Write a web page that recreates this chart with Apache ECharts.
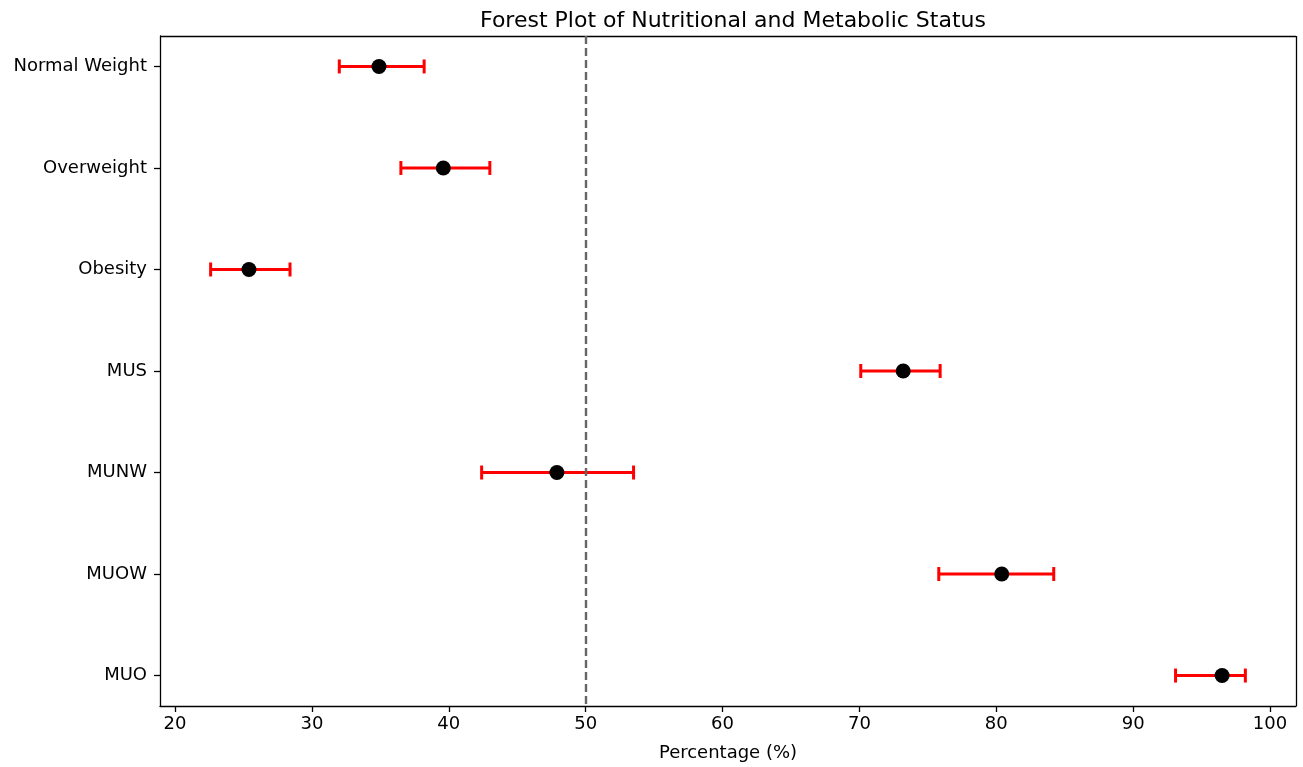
<!DOCTYPE html>
<html>
<head>
<meta charset="utf-8">
<script src="https://cdn.jsdelivr.net/npm/echarts@6/dist/echarts.min.js"></script>
<style>
  html, body { margin: 0; padding: 0; background: #fff; }
  #main { width: 1303px; height: 767px; }
</style>
</head>
<body>
<div id="main"></div>
<script>
// data
var groups = ['Normal Weight', 'Overweight', 'Obesity', 'MUS', 'MUNW', 'MUOW', 'MUO'];
var estimate = [34.9, 39.6, 25.4, 73.2, 47.9, 80.4, 96.5];
var lower = [32.0, 36.5, 22.6, 70.1, 42.4, 75.8, 93.1];
var upper = [38.2, 43.0, 28.4, 75.9, 53.5, 84.2, 98.2];
var xTicks = [20, 30, 40, 50, 60, 70, 80, 90, 100];
var refLine = 50;

var font = 'DejaVu Sans';
var yIdx = groups.map(function (g, i) { return i; });

var errData = groups.map(function (g, i) { return [lower[i], upper[i], i]; });
var pointData = groups.map(function (g, i) { return [estimate[i], i]; });

var chartDom = document.getElementById('main');
var myChart = echarts.init(chartDom);
var option;

option = {
  animation: false,
  title: {
    text: 'Forest Plot of Nutritional and Metabolic Status',
    left: 728, top: 5, textAlign: 'center',
    textStyle: { fontFamily: font, fontSize: 22, fontWeight: 'normal', color: '#000' }
  },
  grid: { left: 160, right: 7, top: 36, bottom: 61 },
  xAxis: {
    type: 'value',
    min: 18.9, max: 101.9,
    name: 'Percentage (%)',
    nameLocation: 'middle',
    nameGap: 38,
    nameTextStyle: { fontFamily: font, fontSize: 18, color: '#000' },
    axisLine: { show: true, onZero: false, lineStyle: { color: '#000', width: 1.3 } },
    axisTick: { show: true, customValues: xTicks, length: 6, lineStyle: { color: '#000', width: 1.3 } },
    axisLabel: { customValues: xTicks, fontFamily: font, fontSize: 18, color: '#000', margin: 9 },
    splitLine: { show: false }
  },
  yAxis: {
    type: 'value',
    min: -0.3, max: 6.3,
    inverse: true,
    axisLine: { show: true, onZero: false, lineStyle: { color: '#000', width: 1.3 } },
    axisTick: { show: true, customValues: yIdx, length: 6, lineStyle: { color: '#000', width: 1.3 } },
    axisLabel: {
      customValues: yIdx, fontFamily: font, fontSize: 18, color: '#000', margin: 13,
      formatter: function (v) { return groups[Math.round(v)]; }
    },
    splitLine: { show: false }
  },
  series: [
    {
      // right / top frame
      type: 'line', data: [], silent: true,
      markLine: {
        symbol: 'none', silent: true, label: { show: false },
        lineStyle: { color: '#000', width: 1.3, type: 'solid' },
        data: [[{ coord: [101.9, -0.3] }, { coord: [101.9, 6.3] }], [{ coord: [18.9, -0.3] }, { coord: [101.9, -0.3] }]]
      }
    },
    {
      type: 'line', data: [], silent: true,
      markLine: {
        symbol: 'none', silent: true, label: { show: false },
        lineStyle: { color: '#666', width: 2.4, type: [8, 4] },
        data: [{ xAxis: refLine }]
      }
    },
    {
      type: 'custom',
      data: errData,
      z: 3,
      renderItem: function (params, api) {
        var a = api.coord([api.value(0), api.value(2)]);
        var b = api.coord([api.value(1), api.value(2)]);
        var h = 7;
        var st = { stroke: '#ff0000', lineWidth: 3 };
        return {
          type: 'group',
          children: [
            { type: 'line', shape: { x1: a[0], y1: a[1], x2: b[0], y2: b[1] }, style: st },
            { type: 'line', shape: { x1: a[0], y1: a[1] - h, x2: a[0], y2: a[1] + h }, style: st },
            { type: 'line', shape: { x1: b[0], y1: b[1] - h, x2: b[0], y2: b[1] + h }, style: st }
          ]
        };
      }
    },
    {
      type: 'scatter',
      data: pointData,
      symbol: 'circle',
      symbolSize: 15,
      z: 4,
      itemStyle: { color: '#000', opacity: 1 }
    }
  ]
};

option && myChart.setOption(option);
</script>
</body>
</html>
